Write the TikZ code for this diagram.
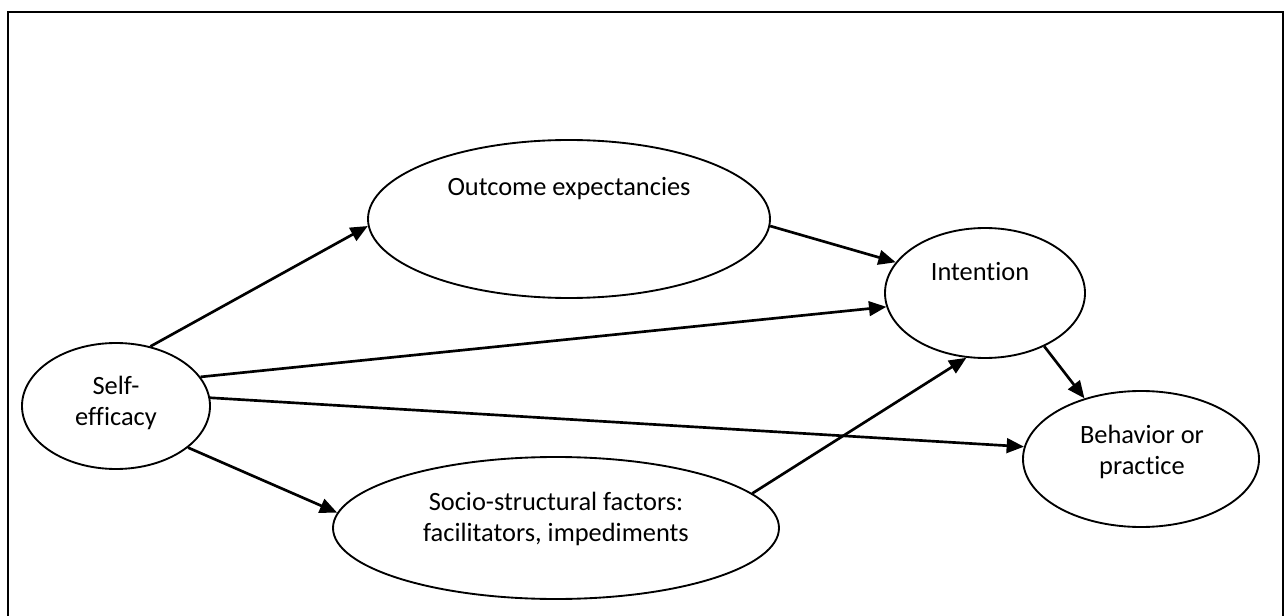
\documentclass[tikz,border=0pt]{standalone}
\usepackage{fontspec}
\setmainfont{Carlito}[Ligatures=NoCommon]
\usetikzlibrary{shapes.geometric,arrows.meta}
\begin{document}
\begin{tikzpicture}[x=0.75pt,y=-0.75pt,
  oval/.style={draw=black,line width=1.4pt,ellipse,inner sep=0pt},
  lbl/.style={align=center,inner sep=0pt,font=\fontsize{19.8}{23.5}\selectfont},
  conn/.style={line width=2pt,-{Triangle[length=13pt,width=11pt]}}]
\useasboundingbox (0,0) rectangle (1288,616);
\draw[line width=1.6pt] (8,616) -- (8,12) -- (1283,12) -- (1283,616);
% ellipses
\node[oval,minimum width=141pt,minimum height=94.5pt] (self) at (116,406) {};
\node[oval,minimum width=301.5pt,minimum height=118.5pt] (out) at (569,219) {};
\node[oval,minimum width=150pt,minimum height=97.5pt] (int) at (985,293) {};
\node[oval,minimum width=177pt,minimum height=102pt] (beh) at (1141,459) {};
\node[oval,minimum width=334.5pt,minimum height=106.5pt] (soc) at (556,528) {};
% texts
\node[lbl] (selft) at (116,403) {Self-\\efficacy};
\node[lbl] (outt) at (569,189) {Outcome expectancies};
\node[lbl] (intt) at (980,272) {Intention};
\node[lbl] (beht) at (1142,452) {Behavior or\\practice};
\node[lbl] (soct) at (556,519) {Socio-structural factors:\\facilitators, impediments};
% connectors
\draw[conn] (self.60) -- (out.182.5);
\draw[conn] (out.-2.6) -- (int.161);
\draw[conn] (self.19.3) -- (int.188.6);
\draw[conn] (self.5.8) -- (beh.174);
\draw[conn] (self.-30.9) -- (soc.176.6);
\draw[conn] (soc.10.4) -- (int.254.7);
\draw[conn] (int.-42) -- (beh.133);
\end{tikzpicture}
\end{document}
